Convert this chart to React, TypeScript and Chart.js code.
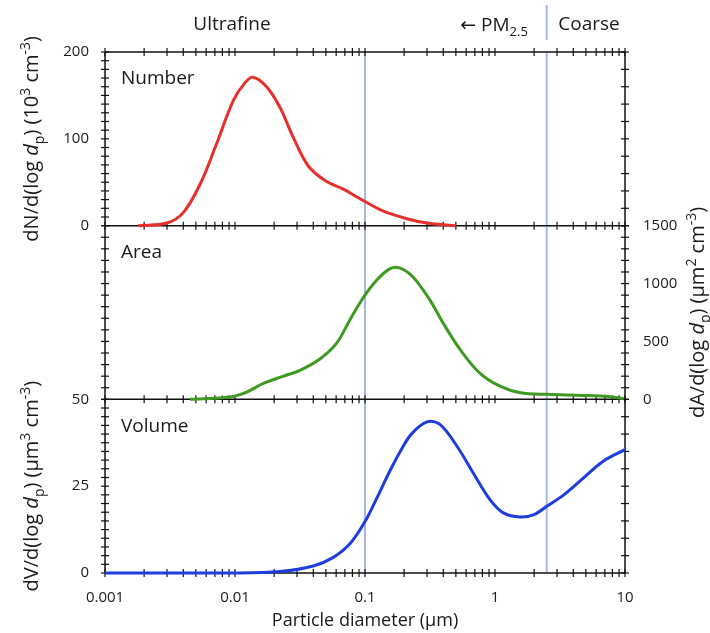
import React, { useEffect, useRef } from "react";
import { Chart, registerables } from "chart.js";

Chart.register(...registerables);

// ---------- data ----------
const X_MIN = 0.001;
const X_MAX = 10;
const X_TICK_LABELS = ["0.001", "0.01", "0.1", "1", "10"];
const CUTOFFS = [0.1, 2.5];

const NUMBER_D = [0.0018, 0.003, 0.004, 0.0054, 0.0072, 0.0097, 0.012, 0.0138, 0.0175, 0.0222, 0.028, 0.0365, 0.0493, 0.0683, 0.0915, 0.137, 0.21, 0.3, 0.5];
const NUMBER_V = [0, 3, 15, 48, 94, 144, 165, 171, 160, 136, 102, 69, 52, 42, 31, 17, 8, 3, 0];

const AREA_D = [0.0045, 0.0091, 0.0123, 0.0165, 0.0236, 0.0316, 0.045, 0.0605, 0.0765, 0.098, 0.123, 0.156, 0.186, 0.234, 0.316, 0.4, 0.54, 0.76, 1.09, 1.57, 2.5, 4.8, 7.7, 9.8];
const AREA_V = [0, 20, 63, 137, 200, 251, 349, 486, 686, 886, 1029, 1129, 1134, 1057, 857, 657, 429, 229, 114, 57, 43, 34, 23, 6];

const VOLUME_D = [0.001, 0.0097, 0.0222, 0.04, 0.0571, 0.0765, 0.1, 0.123, 0.156, 0.19, 0.23, 0.3, 0.377, 0.51, 0.68, 0.915, 1.16, 1.57, 1.99, 2.5, 3.38, 4.8, 6.8, 10];
const VOLUME_V = [0, 0, 0.4, 2, 4.5, 8.4, 14.8, 21.5, 29.5, 35.5, 40.2, 43.5, 42.8, 36.5, 28.8, 21.1, 17.3, 16.1, 16.8, 19.2, 22.5, 27.4, 32.2, 35.5];

const NUMBER_RANGE = [0, 200];
const NUMBER_STEP = 10;
const NUMBER_LABELS = [0, 100, 200];
const AREA_RANGE = [0, 1500];
const AREA_STEP = 100;
const AREA_LABELS = [0, 500, 1000, 1500];
const VOLUME_RANGE = [0, 50];
const VOLUME_STEP = 2.5;
const VOLUME_LABELS = [0, 25, 50];

const PANEL_LABELS = ["Number", "Area", "Volume"];
const TOP_LEFT_LABEL = "Ultrafine";
const TOP_PM_LABEL = ["←", " PM", "2.5"];
const TOP_RIGHT_LABEL = "Coarse";
const X_TITLE = "Particle diameter (µm)";

type Seg = { t: string; italic?: boolean; sub?: boolean; sup?: boolean; family?: string };
const TITLE_N: Seg[] = [{ t: "dN/d(log " }, { t: "d", italic: true }, { t: "p", sub: true }, { t: ") (10" }, { t: "3", sup: true }, { t: " cm" }, { t: "-3", sup: true }, { t: ")" }];
const TITLE_A: Seg[] = [{ t: "dA/d(log " }, { t: "d", italic: true }, { t: "p", sub: true }, { t: ") (µm" }, { t: "2", sup: true }, { t: " cm" }, { t: "-3", sup: true }, { t: ")" }];
const TITLE_V: Seg[] = [{ t: "dV/d(log " }, { t: "d", italic: true }, { t: "p", sub: true }, { t: ") (µm" }, { t: "3", sup: true }, { t: " cm" }, { t: "-3", sup: true }, { t: ")" }];

// ---------- style ----------
const FAMILY = "'Open Sans', sans-serif";
const TEXT = "#1a1a1a";
const RED = "#e5302b";
const GREEN = "#3f9a22";
const BLUE = "#1f3ddb";
const CUT = "#a3b8e8";

function drawRich(ctx: CanvasRenderingContext2D, segs: Seg[], cx: number, cy: number, size: number, rotate: boolean) {
  ctx.save();
  ctx.translate(cx, cy);
  if (rotate) ctx.rotate(-Math.PI / 2);
  const fontFor = (s: Seg) =>
    `${s.italic ? "italic " : ""}${s.sub || s.sup ? Math.round(size * 0.68) : size}px ${s.family ?? FAMILY}`;
  let total = 0;
  for (const s of segs) {
    ctx.font = fontFor(s);
    total += ctx.measureText(s.t).width;
  }
  let x = -total / 2;
  ctx.textBaseline = "alphabetic";
  ctx.textAlign = "left";
  ctx.fillStyle = TEXT;
  const base = size * 0.36;
  for (const s of segs) {
    ctx.font = fontFor(s);
    const dy = s.sub ? size * 0.28 : s.sup ? -size * 0.4 : 0;
    ctx.fillText(s.t, x, base + dy);
    x += ctx.measureText(s.t).width;
  }
  ctx.restore();
}

function line(ctx: CanvasRenderingContext2D, x1: number, y1: number, x2: number, y2: number) {
  ctx.beginPath();
  ctx.moveTo(x1, y1);
  ctx.lineTo(x2, y2);
  ctx.stroke();
}

const framePlugin = {
  id: "frame",
  beforeDatasetsDraw(chart: any) {
    const ctx: CanvasRenderingContext2D = chart.ctx;
    const { left, right, top, bottom } = chart.chartArea;
    const xs = chart.scales.x;
    const s = chart.scales;
    ctx.save();
    // cutoff lines
    ctx.strokeStyle = CUT;
    ctx.lineWidth = 2;
    for (const c of CUTOFFS) {
      const px = xs.getPixelForValue(c);
      line(ctx, px, top, px, bottom);
    }
    const pxc = xs.getPixelForValue(CUTOFFS[1]);
    line(ctx, pxc, 5, pxc, 40);

    // frame
    ctx.strokeStyle = "#111";
    ctx.lineWidth = 1.5;
    const bounds = [top, s.yN.bottom, s.yA.bottom, bottom];
    for (const y of bounds) line(ctx, left, y, right, y);
    line(ctx, left, top, left, bottom);
    line(ctx, right, top, right, bottom);

    // x ticks at every boundary
    ctx.lineWidth = 1.2;
    for (const t of xs.ticks) {
      const px = xs.getPixelForValue(t.value);
      for (const y of bounds) line(ctx, px, y - 4, px, y + 4);
    }
    // y ticks
    for (const id of ["yN", "yAL", "yV"]) {
      const sc = s[id];
      for (const t of sc.ticks) {
        const py = sc.getPixelForValue(t.value);
        line(ctx, left - 4, py, left + 4, py);
      }
    }
    for (const id of ["yNR", "yA", "yVR"]) {
      const sc = s[id];
      for (const t of sc.ticks) {
        const py = sc.getPixelForValue(t.value);
        line(ctx, right - 4, py, right + 4, py);
      }
    }
    ctx.restore();
  },
  afterDraw(chart: any) {
    const ctx: CanvasRenderingContext2D = chart.ctx;
    const { left } = chart.chartArea;
    const s = chart.scales;
    ctx.save();
    ctx.fillStyle = TEXT;
    ctx.textBaseline = "middle";
    ctx.textAlign = "left";
    ctx.font = `19px ${FAMILY}`;
    const panels = [s.yN, s.yA, s.yV];
    panels.forEach((p: any, i: number) => {
      ctx.fillText(PANEL_LABELS[i], left + 16, p.top + 27);
    });
    ctx.font = `19px ${FAMILY}`;
    ctx.textAlign = "center";
    ctx.fillText(TOP_LEFT_LABEL, 232, 25);
    ctx.fillText(TOP_RIGHT_LABEL, 589, 25);
    ctx.restore();
    drawRich(
      ctx,
      [{ t: TOP_PM_LABEL[0], family: "'DejaVu Sans', sans-serif" }, { t: TOP_PM_LABEL[1] }, { t: TOP_PM_LABEL[2], sub: true }],
      494,
      24,
      19,
      false
    );
    drawRich(ctx, TITLE_N, 31, (s.yN.top + s.yN.bottom) / 2, 20, true);
    drawRich(ctx, TITLE_V, 31, (s.yV.top + s.yV.bottom) / 2, 20, true);
    drawRich(ctx, TITLE_A, 697, (s.yA.top + s.yA.bottom) / 2, 20, true);
  },
};

const tickFont = { family: FAMILY, size: 15 };
const labelsCb = (list: number[]) => (v: any) => (list.some((l) => Math.abs(l - Number(v)) < 1e-9) ? String(v) : "");

function yScale(position: string, stack: string, weight: number, range: number[], step: number, labels: number[], width: number) {
  return {
    type: "linear",
    position,
    stack,
    stackWeight: 1,
    weight,
    min: range[0],
    max: range[1],
    grid: { display: false },
    border: { display: false },
    ticks: {
      stepSize: step,
      autoSkip: false,
      padding: position === "left" ? 8 : 10,
      color: TEXT,
      font: tickFont,
      callback: labelsCb(labels),
    },
    afterFit: (sc: any) => {
      sc.width = width;
    },
  };
}

function toPoints(d: number[], v: number[]) {
  return d.map((x, i) => ({ x, y: v[i] }));
}

export default function App() {
  const ref = useRef<HTMLCanvasElement | null>(null);
  useEffect(() => {
    if (!ref.current) return;
    const ds = (label: string, d: number[], v: number[], color: string, axis: string) => ({
      label,
      data: toPoints(d, v),
      borderColor: color,
      backgroundColor: color,
      borderWidth: 3,
      pointRadius: 0,
      tension: 0.35,
      fill: false,
      yAxisID: axis,
      clip: 6,
    });
    const chart = new Chart(ref.current, {
      type: "line",
      data: {
        datasets: [
          ds(PANEL_LABELS[0], NUMBER_D, NUMBER_V, RED, "yN"),
          ds(PANEL_LABELS[1], AREA_D, AREA_V, GREEN, "yA"),
          ds(PANEL_LABELS[2], VOLUME_D, VOLUME_V, BLUE, "yV"),
        ] as any,
      },
      options: {
        responsive: false,
        animation: false,
        devicePixelRatio: 1,
        layout: { padding: { top: 52, left: 0, right: 0, bottom: 0 } },
        plugins: { legend: { display: false }, tooltip: { enabled: false } },
        scales: {
          x: {
            type: "logarithmic",
            min: X_MIN,
            max: X_MAX,
            position: "bottom",
            grid: { display: false },
            border: { display: false },
            afterBuildTicks: (sc: any) => {
              const t: any[] = [];
              for (let e = -3; e < 1; e++) for (let m = 1; m < 10; m++) t.push({ value: Number((m * Math.pow(10, e)).toPrecision(6)) });
              t.push({ value: X_MAX });
              sc.ticks = t;
            },
            ticks: {
              autoSkip: false,
              maxRotation: 0,
              minRotation: 0,
              padding: 8,
              color: TEXT,
              font: tickFont,
              callback: (v: any) => X_TICK_LABELS.find((s) => Math.abs(Math.log10(Number(s)) - Math.log10(Number(v))) < 1e-6) ?? "",
            },
            title: { display: true, text: X_TITLE, color: TEXT, font: { family: FAMILY, size: 18 }, padding: { top: 0, bottom: 1 } },
            afterFit: (sc: any) => {
              sc.height = 60;
            },
          },
          yN: yScale("left", "L", 3, NUMBER_RANGE, NUMBER_STEP, NUMBER_LABELS, 105),
          yAL: yScale("left", "L", 2, AREA_RANGE, AREA_STEP, [], 105),
          yV: yScale("left", "L", 1, VOLUME_RANGE, VOLUME_STEP, VOLUME_LABELS, 105),
          yNR: yScale("right", "R", 1, NUMBER_RANGE, 20, [], 85),
          yA: yScale("right", "R", 2, AREA_RANGE, AREA_STEP, AREA_LABELS, 85),
          yVR: yScale("right", "R", 3, VOLUME_RANGE, 5, [], 85),
        } as any,
      },
      plugins: [framePlugin],
    } as any);
    return () => chart.destroy();
  }, []);
  return (
    <div style={{ position: "absolute", left: 0, top: 0, width: 710, height: 633, background: "#fff" }}>
      <canvas ref={ref} width={710} height={633} style={{ display: "block" }} />
    </div>
  );
}
